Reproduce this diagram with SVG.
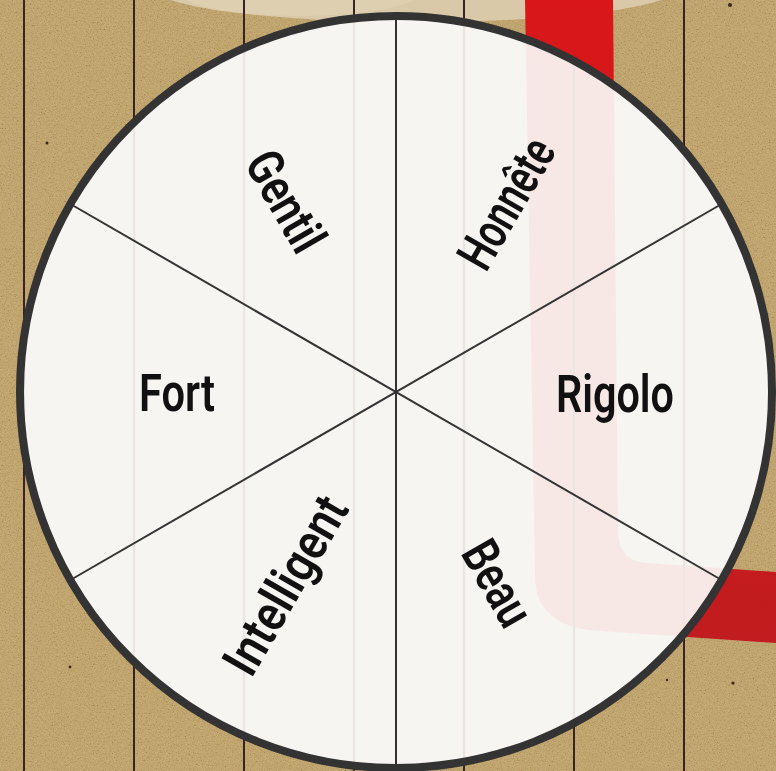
<svg xmlns="http://www.w3.org/2000/svg" width="776" height="771" viewBox="0 0 776 771">
  <defs>
    <filter id="grain" x="0" y="0" width="100%" height="100%">
      <feTurbulence type="fractalNoise" baseFrequency="0.75" numOctaves="3" seed="7" result="n"/>
      <feColorMatrix in="n" type="matrix" values="1.6 0 0 0 -0.3  1.6 0 0 0 -0.3  1.6 0 0 0 -0.3  0 0 0 0 1"/>
    </filter>
    <clipPath id="disc"><circle cx="396" cy="392" r="376"/></clipPath>
    <linearGradient id="redg" x1="0" y1="0" x2="0" y2="1">
      <stop offset="0" stop-color="#d9171a"/>
      <stop offset="1" stop-color="#c11c1f"/>
    </linearGradient>
    <path id="band" d="M525 0 L613 0 L618 532 Q619 562 648 563 L776 572 L776 643 L600 631 C555 628 535 610 535 575 Z"/>
  </defs>
  <style>
    .rule { stroke: #3b2323; stroke-width: 2; }
    .rule-in { stroke: #ede5e1; stroke-width: 2.5; }
    .divider { stroke: #333333; stroke-width: 2; fill: none; }
    .label { font-family: Roboto, "Open Sans", "Liberation Sans", sans-serif; font-weight: 600; font-size: 51px; fill: #111111; text-anchor: middle; }
  </style>

  <!-- cardboard background -->
  <rect x="0" y="0" width="776" height="771" fill="#b89a64"/>
  <rect x="0" y="0" width="776" height="771" filter="url(#grain)" opacity="0.22" style="mix-blend-mode:overlay"/>
  <g fill="#3a2a1a">
    <circle cx="733" cy="683" r="1.6"/>
    <circle cx="667" cy="680" r="1.2"/>
    <circle cx="730" cy="5" r="2"/>
    <circle cx="47" cy="143" r="1.5"/>
    <circle cx="70" cy="667" r="1.4"/>
  </g>

  <!-- beige shape at top -->
  <ellipse cx="416" cy="-12" rx="262" ry="34" fill="#dac9a8"/>
  <ellipse cx="300" cy="-8" rx="120" ry="24" fill="#e0d3b6" opacity="0.6"/>

  <!-- vertical rules outside -->
  <g id="rules">
    <line class="rule" x1="24" y1="0" x2="24" y2="771"/>
    <line class="rule" x1="134" y1="0" x2="134" y2="771"/>
    <line class="rule" x1="244" y1="0" x2="244" y2="771"/>
    <line class="rule" x1="354" y1="0" x2="354" y2="771"/>
    <line class="rule" x1="464" y1="0" x2="464" y2="771"/>
    <line class="rule" x1="574" y1="0" x2="574" y2="771"/>
    <line class="rule" x1="684" y1="0" x2="684" y2="771"/>
  </g>

  <!-- red band -->
  <use href="#band" fill="url(#redg)"/>

  <!-- wheel disc -->
  <g id="wheel">
    <circle cx="396" cy="392" r="376" fill="#f6f5f2"/>
    <g clip-path="url(#disc)">
      <use href="#band" fill="#f8e8e5"/>
      <line class="rule-in" x1="24" y1="0" x2="24" y2="771"/>
      <line class="rule-in" x1="134" y1="0" x2="134" y2="771"/>
      <line class="rule-in" x1="244" y1="0" x2="244" y2="771"/>
      <line class="rule-in" x1="354" y1="0" x2="354" y2="771"/>
      <line class="rule-in" x1="464" y1="0" x2="464" y2="771"/>
      <line class="rule-in" x1="574" y1="0" x2="574" y2="771"/>
      <line class="rule-in" x1="684" y1="0" x2="684" y2="771"/>
    </g>
  </g>

  <!-- sector dividers -->
  <g id="dividers">
    <line class="divider" x1="396" y1="16" x2="396" y2="768"/>
    <line class="divider" x1="70.4" y1="204" x2="721.6" y2="580"/>
    <line class="divider" x1="70.4" y1="580" x2="721.6" y2="204"/>
  </g>

  <circle cx="396" cy="392" r="376" fill="none" stroke="#333333" stroke-width="8"/>

  <g id="sector-gentil" transform="translate(286,201) rotate(60)">
    <text class="label" x="0" y="18" textLength="108" lengthAdjust="spacingAndGlyphs">Gentil</text>
  </g>
  <g id="sector-honnete" transform="translate(506,203) rotate(-60)">
    <text class="label" x="0" y="18" textLength="142" lengthAdjust="spacingAndGlyphs">Honnête</text>
  </g>
  <g id="sector-fort">
    <text class="label" x="177" y="411" textLength="76" lengthAdjust="spacingAndGlyphs">Fort</text>
  </g>
  <g id="sector-rigolo">
    <text class="label" x="615" y="412" textLength="118" lengthAdjust="spacingAndGlyphs">Rigolo</text>
  </g>
  <g id="sector-intelligent" transform="translate(285,585) rotate(-60)">
    <text class="label" x="0" y="18" textLength="197" lengthAdjust="spacingAndGlyphs">Intelligent</text>
  </g>
  <g id="sector-beau" transform="translate(498,583) rotate(60)">
    <text class="label" x="0" y="18" textLength="90" lengthAdjust="spacingAndGlyphs">Beau</text>
  </g>
</svg>
